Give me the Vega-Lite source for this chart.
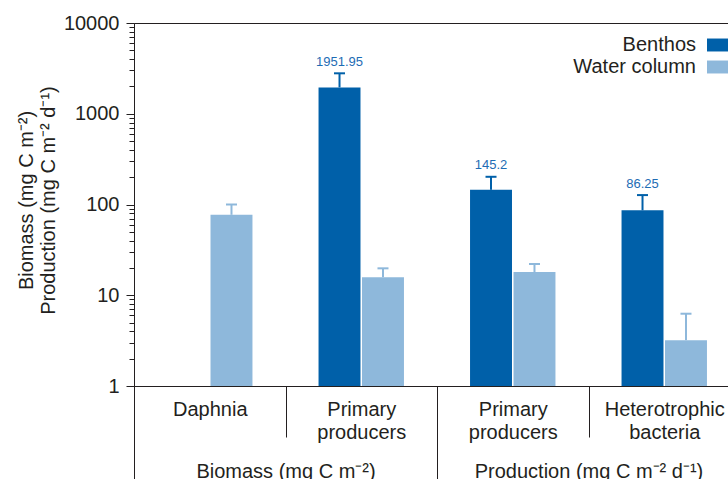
{
  "$schema": "https://vega.github.io/schema/vega-lite/v6.json",
  "width": 606,
  "height": 363,
  "autosize": {"type": "none"},
  "padding": {"left": 134, "top": 23, "right": 0, "bottom": 93},
  "background": "white",
  "config": {
    "font": "Liberation Sans",
    "view": {"stroke": "#231f20", "strokeWidth": 1},
    "axis": {
      "grid": false,
      "labelFont": "Liberation Sans",
      "titleFont": "Liberation Sans",
      "labelColor": "#231f20",
      "titleColor": "#231f20",
      "domainColor": "#231f20",
      "tickColor": "#231f20",
      "titleFontWeight": "normal",
      "labelFontSize": 20,
      "titleFontSize": 20
    }
  },
  "datasets": {
    "main": [
      {"cat": "Daphnia", "series": "Water column", "value": 77, "upper": 100},
      {"cat": "PP_biomass", "series": "Benthos", "value": 1951.95, "upper": 2790, "label": "1951.95"},
      {"cat": "PP_biomass", "series": "Water column", "value": 15.8, "upper": 19.8},
      {"cat": "PP_production", "series": "Benthos", "value": 145.2, "upper": 202, "label": "145.2"},
      {"cat": "PP_production", "series": "Water column", "value": 18.0, "upper": 22.1},
      {"cat": "HB", "series": "Benthos", "value": 86.25, "upper": 127, "label": "86.25"},
      {"cat": "HB", "series": "Water column", "value": 3.2, "upper": 6.26}
    ],
    "groups": [
      {"group": "Biomass (mg C m⁻²)"},
      {"group": "Production (mg C m⁻² d⁻¹)"}
    ]
  },
  "layer": [
    {
      "data": {"name": "groups"},
      "mark": {"type": "text", "text": ""},
      "encoding": {
        "x": {
          "field": "group",
          "type": "nominal",
          "scale": {"padding": 0},
          "axis": {
            "orient": "bottom",
            "title": null,
            "domain": false,
            "tickBand": "extent",
            "tickSize": 100,
            "labelPadding": -9,
            "labelBaseline": "alphabetic",
            "labelAngle": 0,
            "labelOverlap": false,
            "labelBound": false,
            "labelLimit": 400
          }
        }
      }
    },
    {
      "data": {"name": "main"},
      "encoding": {
        "x": {
          "field": "cat",
          "type": "nominal",
          "sort": ["Daphnia", "PP_biomass", "PP_production", "HB"],
          "scale": {"padding": 0},
          "axis": {
            "orient": "bottom",
            "title": null,
            "tickBand": "extent",
            "tickSize": 51,
            "labelPadding": -22,
            "labelBaseline": "alphabetic",
            "labelAngle": 0,
            "labelLineHeight": 23.5,
            "labelOverlap": false,
            "labelBound": false,
            "labelExpr": "datum.value == 'Daphnia' ? 'Daphnia' : datum.value == 'HB' ? ['Heterotrophic', 'bacteria'] : (datum.value == 'PP_biomass' || datum.value == 'PP_production') ? ['Primary', 'producers'] : ''"
          }
        },
        "xOffset": {
          "field": "series",
          "type": "nominal",
          "scale": {"paddingInner": 0.035, "paddingOuter": 0.76}
        }
      },
      "layer": [
        {
          "mark": {"type": "bar", "opacity": 1},
          "encoding": {
            "y": {
              "field": "value",
              "type": "quantitative",
              "scale": {"type": "log", "domain": [1, 10000], "nice": false},
              "axis": {
                "title": ["Biomass (mg C m⁻²)", "Production (mg C m⁻² d⁻¹)"],
                "values": [1, 2, 3, 4, 5, 6, 7, 8, 9, 10, 20, 30, 40, 50, 60, 70, 80, 90, 100, 200, 300, 400, 500, 600, 700, 800, 900, 1000, 2000, 3000, 4000, 5000, 6000, 7000, 8000, 9000, 10000],
                "labelExpr": "indexof([1, 10, 100, 1000, 10000], datum.value) >= 0 ? format(datum.value, 'd') : ''",
                "tickSize": {"condition": {"test": "indexof([1, 10, 100, 1000, 10000], datum.value) >= 0", "value": 8}, "value": 5},
                "labelPadding": 7,
                "labelOverlap": false,
                "labelBound": false,
                "labelFlush": false,
                "titleX": -102,
                "titleY": 177,
                "titleAngle": -90,
                "titleAlign": "center",
                "titleBaseline": "alphabetic",
                "titleLineHeight": 22
              }
            },
            "y2": {"datum": 1},
            "color": {
              "field": "series",
              "type": "nominal",
              "scale": {"domain": ["Benthos", "Water column"], "range": ["#0060a9", "#8eb8db"]},
              "legend": {
                "title": null,
                "orient": "none",
                "legendX": 573,
                "legendY": 10,
                "direction": "vertical",
                "symbolType": "M-1,-0.54H1V0.54H-1Z",
                "symbolSize": 576,
                "symbolStrokeWidth": 0,
                "symbolOpacity": 1,
                "labelAlign": "right",
                "labelOffset": -35,
                "labelFontSize": 20,
                "labelFont": "Liberation Sans",
                "labelColor": "#231f20",
                "rowPadding": -3,
                "padding": 0
              }
            }
          }
        },
        {
          "mark": {"type": "rule", "strokeWidth": 2, "opacity": 1},
          "encoding": {
            "y": {"field": "value", "type": "quantitative"},
            "y2": {"field": "upper"},
            "color": {"field": "series", "type": "nominal"}
          }
        },
        {
          "mark": {"type": "tick", "size": 11, "thickness": 2, "opacity": 1},
          "encoding": {
            "y": {"field": "upper", "type": "quantitative"},
            "color": {"field": "series", "type": "nominal"}
          }
        },
        {
          "transform": [{"filter": "datum.label"}],
          "mark": {"type": "text", "baseline": "alphabetic", "dy": -7.5, "fontSize": 13, "color": "#1d6cb4", "font": "Liberation Sans"},
          "encoding": {
            "y": {"field": "upper", "type": "quantitative"},
            "text": {"field": "label"}
          }
        }
      ]
    }
  ],
  "resolve": {"scale": {"x": "independent"}, "axis": {"x": "independent"}}
}
